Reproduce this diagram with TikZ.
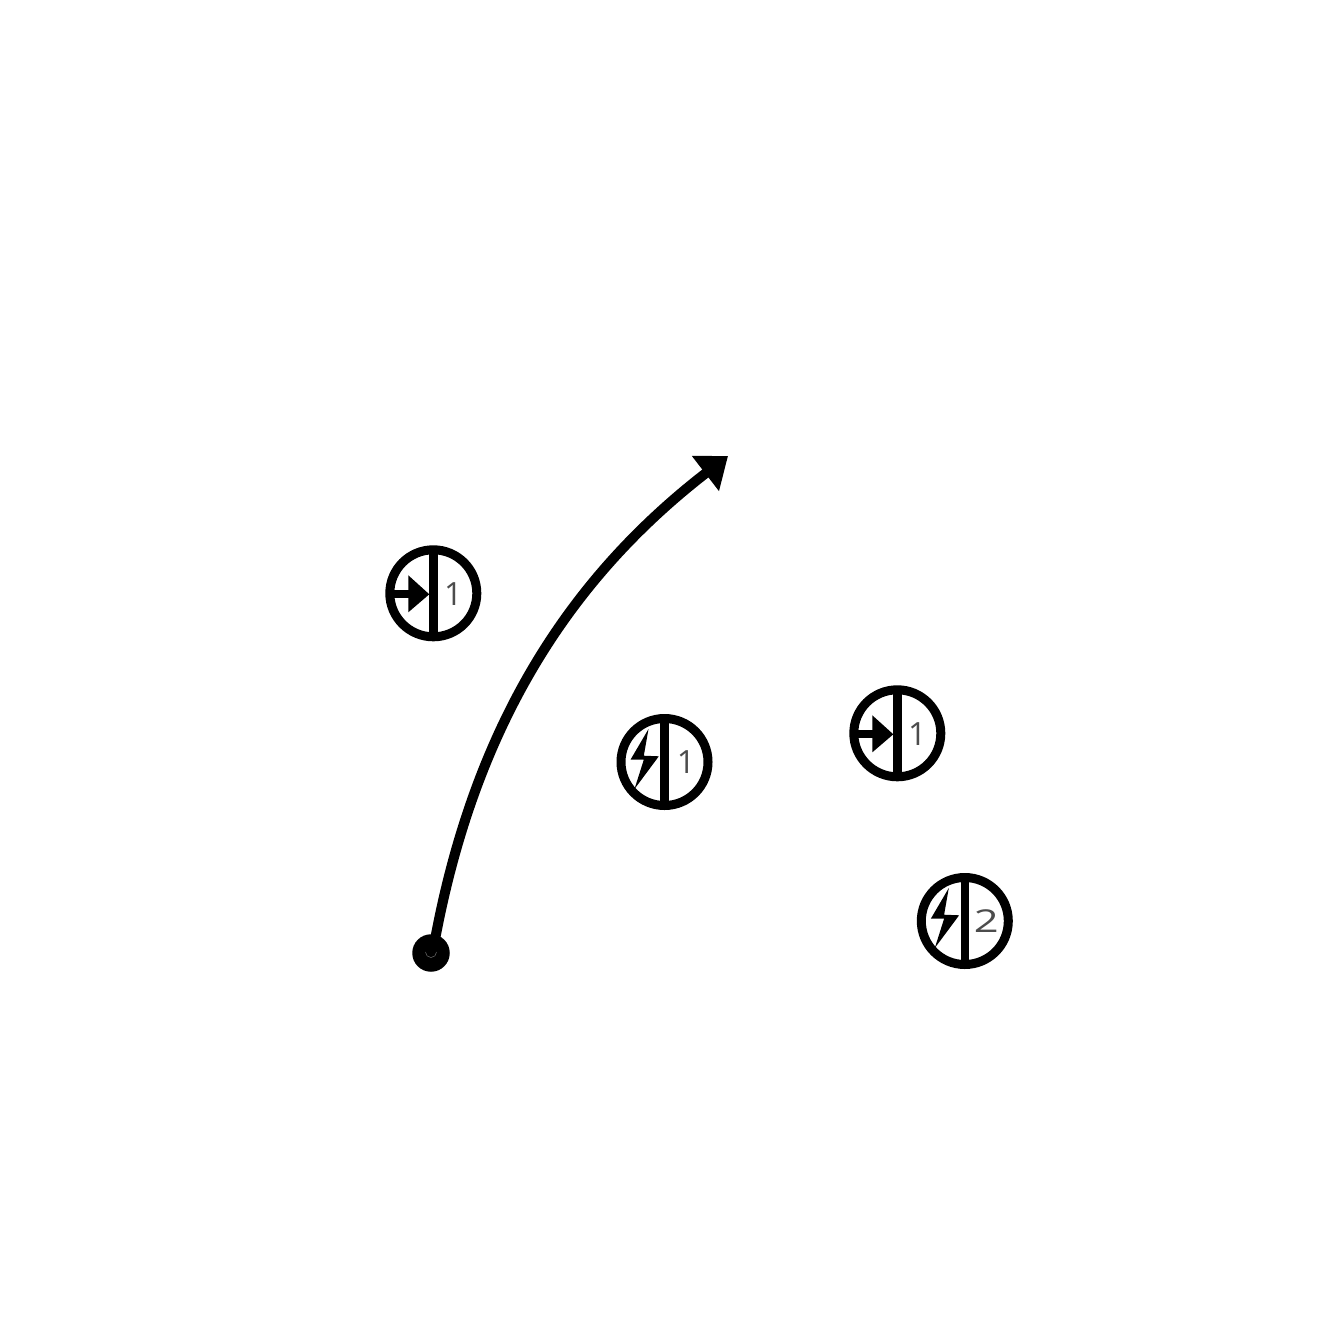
\documentclass[tikz,border=0pt]{standalone}
\usepackage{fontspec}
\usetikzlibrary{arrows.meta}
\newfontfamily\digfont{Open Sans}
\tikzset{
  ring/.style={circle,draw=black,line width=9pt,minimum size=87pt,inner sep=0pt,outer sep=0pt,fill=white},
  bar/.style={line width=8.5pt,black},
  digit/.style={text=black!70,inner sep=0pt,font=\digfont\fontsize{32pt}{32pt}\selectfont},
  widedigit/.style={text=black!70,inner sep=0pt,font=\digfont\fontsize{30pt}{30pt}\selectfont},
  stem/.style={line width=8pt,black},
  curve/.style={line width=10pt,black,-{Triangle[length=28.6pt,width=42.6pt]}},
}
\newcommand{\iconarrow}[4]{% name, x, y, digit
  \node[ring] (#1) at (#2,#3) {};
  \draw[bar] (#1.north) -- (#1.south);
  \begin{scope}[shift={(#1.center)}]
    \coordinate (#1s) at (-40,1);
    \draw[stem] (#1s) -- (-20,1);
    \fill[black] (-25,-18) -- (-4,1) -- (-25,19) -- cycle;
    \node[digit] (#1d) at (20,0.5) {#4};
  \end{scope}
}
\newcommand{\iconbolt}[5]{%
  \node[ring] (#1) at (#2,#3) {};
  \draw[bar] (#1.north) -- (#1.south);
  \begin{scope}[shift={(#1.center)}]
    \fill[black] (-16,-33) -- (-34,-2.3) -- (-20.7,-2.3) -- (-30,27) -- (-5.7,-5.7) -- (-20.7,-6.3) -- cycle;
    \node[#5] (#1d) at (21.5,0.5) {#4};
  \end{scope}
}
\begin{document}
\begin{tikzpicture}[x=1pt,y=-1pt]
\useasboundingbox (0,0) rectangle (1329,1329);
\iconarrow{a}{433.3}{593.3}{1}
\iconarrow{b}{897.3}{733.3}{1}
\iconbolt{c}{664.5}{762}{1}{digit}
\iconbolt{d}{964.8}{921}{\scalebox{1.45}[1.05]{2}}{widedigit}
\node[circle,fill=black,minimum size=37.5pt,inner sep=0pt,outer sep=0pt] (start) at (431,953) {};
\draw[black!55,line width=.5pt] (425.5,952) arc[start angle=180,end angle=360,radius=5.5pt];
\coordinate (tip) at (728,456);
\draw[curve] (start.center) ++(3,-8) .. controls (472,737) and (561,585) .. (tip);
\end{tikzpicture}
\end{document}
